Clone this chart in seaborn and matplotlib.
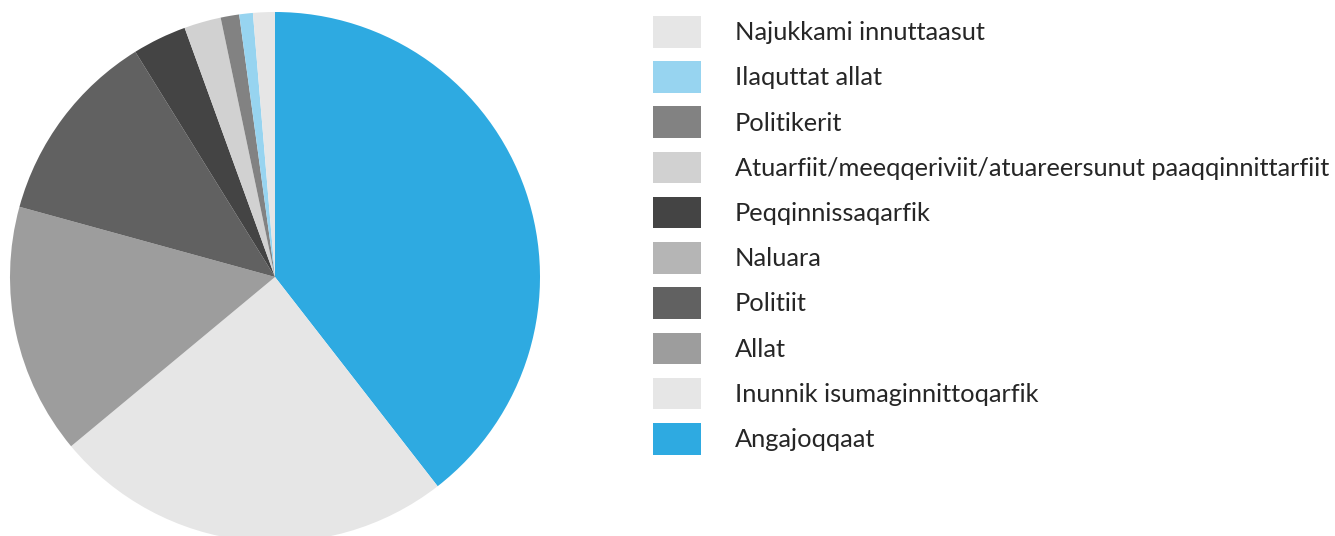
import matplotlib
matplotlib.use("Agg")
import matplotlib.pyplot as plt
import seaborn as sns
from matplotlib.patches import Patch

sns.set_theme(style="white")
plt.rcParams['font.family'] = ['Lato', 'DejaVu Sans']

# Clockwise order starting at 12 o'clock
categories = [
    "Angajoqqaat",
    "Inunnik isumaginnittoqarfik",
    "Allat",
    "Politiit",
    "Naluara",
    "Peqqinnissaqarfik",
    "Atuarfiit/meeqqeriviit/atuareersunut paaqqinnittarfiit",
    "Politikerit",
    "Ilaquttat allat",
    "Najukkami innuttaasut",
]
shares = [39.5, 24.5, 15.3, 11.9, 0.0, 3.3, 2.25, 1.13, 0.83, 1.33]
colors = ["#2eaae1", "#e6e6e6", "#9d9d9d", "#616161", "#b5b5b5",
          "#444444", "#d1d1d1", "#828282", "#97d4f0", "#e6e6e6"]

W, H = 1335, 536
fig = plt.figure(figsize=(W / 100, H / 100), dpi=100)
fig.patch.set_facecolor("white")

# pie centre ~ (275, 277) px, radius ~265 px
cx, cy, r = 275, 277, 265
ax = fig.add_axes([(cx - r) / W, (H - cy - r) / H, 2 * r / W, 2 * r / H])
ax.pie(shares, colors=colors, startangle=90, counterclock=False,
       radius=1, wedgeprops=dict(linewidth=0))
ax.set_xlim(-1, 1)
ax.set_ylim(-1, 1)
ax.set_aspect("equal")
ax.axis("off")

# legend listed in reverse of the pie order
handles = [Patch(facecolor=c, edgecolor="none", label=l)
           for l, c in zip(categories[::-1], colors[::-1])]
fs = 18.3
fpx = fs * 100 / 72
fig.legend(handles=handles, loc="upper left",
           bbox_to_anchor=(653 / W, 1 - 16 / H),
           frameon=False, fontsize=fs, borderpad=0, borderaxespad=0,
           handlelength=48 / fpx, handleheight=1.53,
           handletextpad=(735 - 701) / fpx,
           labelspacing=0.54)

fig.savefig("out.png", dpi=100, facecolor="white")
